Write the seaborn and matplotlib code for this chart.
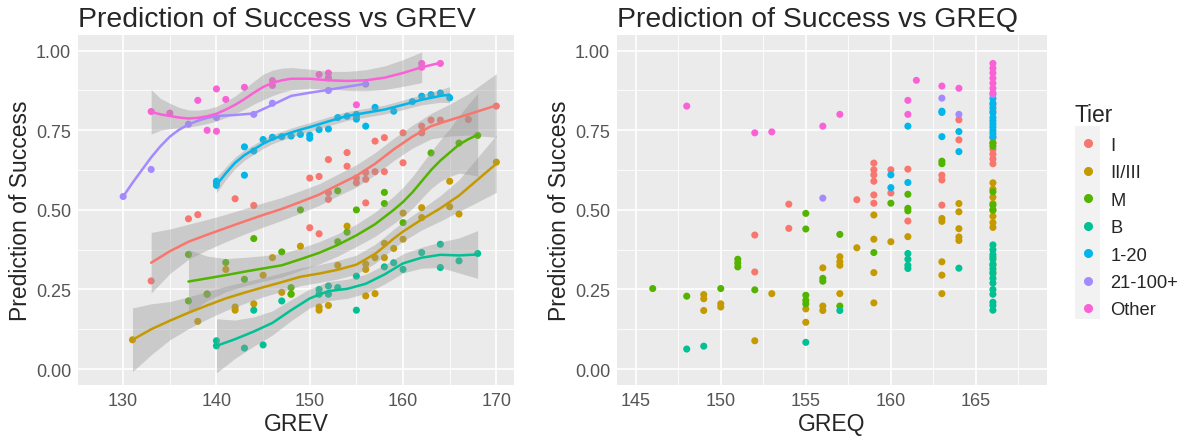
import matplotlib
matplotlib.use("Agg")
import matplotlib.pyplot as plt
from matplotlib.lines import Line2D
from matplotlib.patches import Rectangle
from matplotlib.ticker import AutoMinorLocator, FormatStrFormatter
import numpy as np
import pandas as pd
import seaborn as sns

tiers = ["I", "II/III", "M", "B", "1-20", "21-100+", "Other"]
colors = ["#F8766D", "#C49A00", "#53B400", "#00C094", "#00B6EB", "#A58AFF", "#FB61D7"]

# (GREV, prediction)
grev_I = [(133, .277), (137, .472), (138, .485), (142, .535), (144, .514), (150, .60), (150, .444),
          (151, .605), (151, .425), (152, .658), (152, .554), (152, .533), (154, .68), (154, .637),
          (155, .60), (155, .585), (156, .617), (156, .596), (156, .522), (157, .716), (157, .62),
          (158, .727), (158, .62), (160, .742), (160, .648), (162, .763), (162, .742), (163, .782),
          (164, .782), (167, .784), (170, .826)]
grev_II = [(131, .092), (138, .15), (139, .236), (141, .313), (142, .195), (142, .185), (144, .205),
           (145, .295), (146, .35), (147, .241), (148, .236), (149, .386), (151, .195), (151, .185),
           (152, .20), (153, .326), (154, .449), (156, .33), (156, .313), (156, .23), (157, .237),
           (157, .35), (158, .35), (158, .395), (159, .379), (160, .408), (160, .49), (162, .476),
           (162, .507), (165, .59), (165, .51), (166, .487), (170, .65)]
grev_M = [(137, .36), (137, .214), (139, .235), (141, .335), (143, .282), (144, .41), (147, .368),
          (148, .256), (148, .235), (149, .50), (153, .40), (153, .56), (154, .43), (155, .50),
          (158, .555), (158, .52), (160, .46), (163, .679), (166, .71), (168, .734)]
grev_B = [(140, .089), (140, .073), (143, .066), (144, .185), (145, .076), (147, .214), (151, .25),
          (151, .235), (152, .261), (152, .235), (153, .256), (155, .292), (155, .185), (158, .321),
          (159, .334), (160, .313), (162, .366), (164, .392), (164, .319), (166, .34), (168, .363)]
grev_1_20 = [(140, .59), (140, .577), (140, .585), (143, .698), (143, .609), (144, .685), (145, .721),
             (146, .728), (147, .73), (148, .732), (149, .737), (150, .735), (150, .725), (151, .752),
             (152, .754), (153, .79), (154, .794), (155, .795), (155, .785), (155, .80), (156, .763),
             (157, .822), (159, .81), (161, .84), (162, .857), (163, .862), (164, .867), (165, .852)]
grev_21 = [(130, .542), (133, .627), (137, .769), (140, .79), (144, .80), (146, .835), (152, .875),
           (156, .895)]
grev_Other = [(133, .809), (135, .804), (138, .844), (139, .75), (140, .88), (140, .747), (141, .847),
              (143, .885), (146, .906), (146, .891), (151, .925), (152, .93), (152, .915), (155, .83),
              (162, .96), (162, .948), (164, .96)]

# loess fits: (GREV, fit, half width of the band)
fit_I = [(133, .334, .095), (135, .370, .07), (137, .400, .055), (139, .422, .048), (141, .443, .043),
         (143, .464, .04), (145, .484, .038), (147, .503, .036), (149, .525, .035), (151, .548, .034),
         (153, .578, .034), (155, .607, .035), (157, .645, .035), (159, .690, .035), (161, .730, .036),
         (163, .763, .04), (165, .782, .05), (167, .800, .065), (170, .828, .10)]
fit_II = [(131, .092, .10), (133, .125, .08), (135, .152, .06), (137, .177, .05), (139, .200, .043),
          (141, .222, .038), (143, .240, .034), (145, .257, .03), (147, .273, .029), (149, .290, .028),
          (151, .300, .028), (153, .312, .029), (155, .328, .03), (156, .345, .03), (157, .362, .03),
          (158, .385, .03), (159, .410, .03), (160, .432, .03), (162, .470, .033), (164, .505, .04),
          (166, .545, .05), (168, .595, .07), (170, .645, .09)]
fit_M = [(137, .275, .10), (139, .285, .07), (141, .295, .052), (143, .306, .045), (145, .316, .04),
         (147, .326, .037), (149, .345, .035), (151, .365, .035), (153, .390, .035), (155, .420, .035),
         (157, .455, .038), (159, .500, .043), (160, .525, .046), (161, .555, .05), (162, .590, .054),
         (163, .625, .058), (164, .655, .065), (165, .680, .075), (166, .705, .09), (167, .722, .11),
         (168, .736, .13)]
fit_B = [(140, .073, .085), (142, .094, .06), (144, .118, .046), (146, .145, .038), (148, .185, .033),
         (150, .222, .03), (152, .245, .03), (154, .252, .03), (156, .268, .03), (158, .297, .03),
         (160, .332, .03), (162, .350, .033), (164, .359, .04), (166, .357, .055), (168, .360, .075)]
fit_1_20 = [(140, .578, .025), (141, .615, .02), (142, .648, .018), (143, .672, .016), (144, .690, .015),
            (145, .708, .015), (146, .722, .014), (147, .733, .014), (148, .743, .014), (149, .752, .014),
            (150, .760, .014), (152, .778, .014), (154, .795, .014), (156, .805, .014), (158, .815, .014),
            (160, .830, .015), (162, .846, .016), (164, .858, .02), (165, .862, .025)]
fit_21 = [(130, .542, None), (131, .585, None), (132, .625, None), (133, .665, None), (134, .700, None),
          (135, .730, None), (136, .752, None), (137, .768, None), (138, .780, None), (139, .789, None),
          (140, .795, None), (142, .798, None), (144, .803, None), (146, .830, None), (148, .858, None),
          (150, .868, None), (152, .877, None), (154, .887, None), (156, .896, None)]
fit_Other = [(133, .808, .07), (134, .800, .05), (135, .795, .04), (136, .790, .032), (137, .787, .027),
             (138, .789, .024), (139, .794, .023), (140, .802, .023), (141, .815, .025), (142, .830, .028),
             (143, .848, .032), (144, .868, .036), (145, .886, .04), (146, .899, .04), (147, .907, .038),
             (148, .912, .035), (150, .912, .03), (152, .907, .028), (154, .905, .03), (156, .907, .033),
             (158, .915, .037), (160, .930, .042), (162, .948, .048), (163, .955, None), (164, .962, None)]

# (GREQ, prediction)
greq_I = [(152, .421), (152, .305), (154, .518), (154, .442), (158, .532), (159, .647), (159, .626),
          (159, .61), (159, .59), (159, .547), (159, .521), (160, .626), (160, .553), (161, .628),
          (161, .465), (163, .609), (163, .594), (163, .515), (164, .783), (164, .72), (166, .83),
          (166, .81), (166, .725), (166, .71), (166, .69), (166, .675), (166, .66), (166, .645)]
greq_II = [(149, .234), (149, .221), (149, .184), (150, .205), (150, .195), (152, .089), (153, .237),
           (155, .189), (155, .147), (156, .318), (156, .198), (156, .184), (157, .353), (157, .337),
           (157, .326), (157, .237), (158, .381), (159, .484), (159, .408), (159, .303), (159, .208),
           (160, .40), (161, .416), (163, .473), (163, .464), (163, .337), (163, .295), (163, .237),
           (164, .52), (164, .494), (164, .441), (164, .415), (164, .404), (166, .585), (166, .565),
           (166, .54), (166, .52), (166, .50), (166, .48), (166, .46), (166, .445), (166, .305)]
greq_M = [(146, .253), (148, .229), (150, .253), (151, .345), (151, .333), (151, .321), (152, .249),
          (155, .489), (155, .44), (155, .232), (155, .216), (155, .205), (156, .276), (156, .285),
          (157, .423), (157, .198), (159, .366), (160, .521), (161, .549), (161, .505), (161, .497),
          (163, .653), (163, .645), (166, .71), (166, .70), (166, .557), (166, .515), (166, .499),
          (166, .352), (166, .326)]
greq_B = [(148, .063), (149, .072), (155, .084), (157, .184), (161, .363), (161, .345), (161, .326),
          (161, .316), (164, .317), (166, .39), (166, .375), (166, .36), (166, .345), (166, .33),
          (166, .315), (166, .30), (166, .285), (166, .27), (166, .25), (166, .235), (166, .21),
          (166, .20), (166, .185)]
greq_1_20 = [(160, .61), (160, .57), (161, .763), (161, .586), (163, .81), (163, .806), (163, .73),
             (164, .746), (164, .683), (166, .85), (166, .835), (166, .82), (166, .805), (166, .79),
             (166, .78), (166, .77), (166, .76), (166, .75), (166, .74), (166, .73)]
greq_21 = [(156, .537), (163, .851), (164, .80), (166, .862)]
greq_Other = [(148, .826), (152, .742), (153, .745), (156, .763), (157, .80), (161, .844), (161, .80),
              (161.5, .907), (163, .889), (164, .882), (166, .96), (166, .945), (166, .93), (166, .914),
              (166, .898), (166, .882), (166, .867)]

grev_points = [grev_I, grev_II, grev_M, grev_B, grev_1_20, grev_21, grev_Other]
greq_points = [greq_I, greq_II, greq_M, greq_B, greq_1_20, greq_21, greq_Other]
fits = [fit_I, fit_II, fit_M, fit_B, fit_1_20, fit_21, fit_Other]


def to_frame(groups, cols):
    rows = []
    for tier, pts in zip(tiers, groups):
        for p in pts:
            rows.append((tier,) + tuple(np.nan if v is None else v for v in p))
    return pd.DataFrame(rows, columns=["Tier"] + cols)


grev_df = to_frame(grev_points, ["GREV", "Pred"])
greq_df = to_frame(greq_points, ["GREQ", "Pred"])
fit_df = to_frame(fits, ["GREV", "Fit", "Half"])

sns.set_theme(style="darkgrid")
plt.rcParams["font.family"] = ["Liberation Sans", "DejaVu Sans"]

fig = plt.figure(figsize=(11.82, 4.39), dpi=100)
ax1 = fig.add_axes([0.066, 0.1207, 0.3689, 0.7978])
ax2 = fig.add_axes([0.522, 0.1207, 0.3638, 0.7978])


def gg_style(ax, xticks, xlim):
    ax.set_facecolor("#EBEBEB")
    ax.set_xlim(*xlim)
    ax.set_ylim(-0.05, 1.05)
    ax.set_xticks(xticks)
    ax.set_yticks([0, .25, .5, .75, 1])
    ax.yaxis.set_major_formatter(FormatStrFormatter("%.2f"))
    ax.xaxis.set_minor_locator(AutoMinorLocator(2))
    ax.yaxis.set_minor_locator(AutoMinorLocator(2))
    ax.grid(which="major", color="white", lw=1.2)
    ax.grid(which="minor", color="white", lw=0.6)
    ax.set_axisbelow(True)
    for s in ax.spines.values():
        s.set_visible(False)
    ax.tick_params(which="major", length=3, width=0.9, color="#333333",
                   labelsize=13, labelcolor="#555555", pad=2)
    ax.tick_params(which="minor", length=0)


# left panel: points, then loess bands and lines
sns.scatterplot(data=grev_df, x="GREV", y="Pred", hue="Tier", hue_order=tiers, palette=colors,
                s=26, linewidth=0, legend=False, ax=ax1)
for tier, c in zip(tiers, colors):
    d = fit_df[fit_df["Tier"] == tier]
    ax1.fill_between(d["GREV"], d["Fit"] - d["Half"], d["Fit"] + d["Half"],
                     color="#999999", alpha=0.4, lw=0)
    sns.lineplot(data=d, x="GREV", y="Fit", color=c, lw=1.8, ax=ax1)
gg_style(ax1, [130, 140, 150, 160, 170], (125.16, 171.9))
ax1.set_title("Prediction of Success vs GREV", loc="left", fontsize=20.4, pad=6.5)
ax1.set_xlabel("GREV", fontsize=16.5, labelpad=2)
ax1.set_ylabel("Prediction of Success", fontsize=16.5, labelpad=3)

# right panel: points only
sns.scatterplot(data=greq_df, x="GREQ", y="Pred", hue="Tier", hue_order=tiers, palette=colors,
                s=26, linewidth=0, legend=False, ax=ax2)
gg_style(ax2, [145, 150, 155, 160, 165], (143.9, 169.18))
ax2.set_title("Prediction of Success vs GREQ", loc="left", fontsize=20.4, pad=6.5)
ax2.set_xlabel("GREQ", fontsize=16.5, labelpad=2)
ax2.set_ylabel("Prediction of Success", fontsize=16.5, labelpad=3)

# legend keys sit on a light grey strip, as in ggplot
fig.add_artist(Rectangle((1075 / 1182, 1 - 320 / 439), 25 / 1182, 193 / 439,
                         transform=fig.transFigure, facecolor="#F2F2F2", edgecolor="none", zorder=0))
handles = [Line2D([], [], marker="o", ls="", color=c, markersize=5.5) for c in colors]
fig.legend(handles, tiers, title="Tier", loc="upper left", bbox_to_anchor=(0.895, 0.80),
           frameon=False, fontsize=13.2, title_fontsize=16.5, handletextpad=0.45,
           labelspacing=0.57, handlelength=1.5, alignment="left")

fig.savefig("out.png", dpi=100)
